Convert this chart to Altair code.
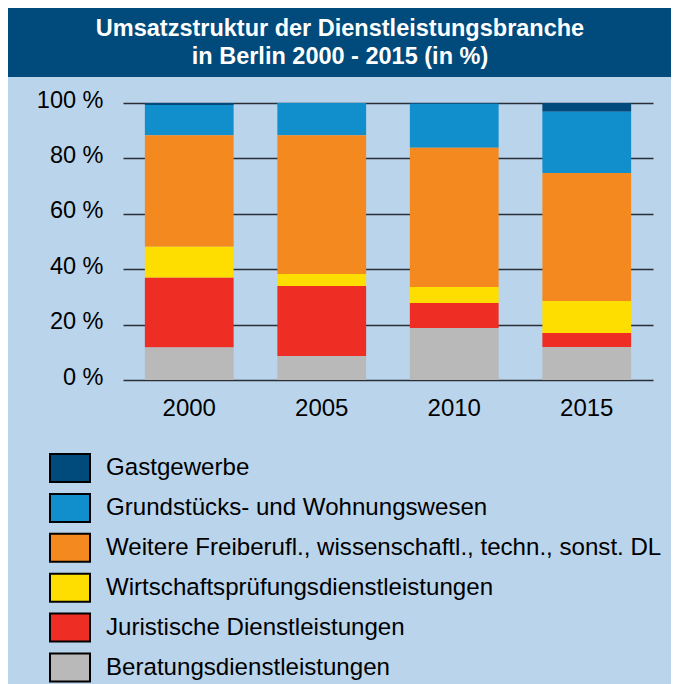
import altair as alt
import pandas as pd

years = ["2000", "2005", "2010", "2015"]
categories = [
    "Gastgewerbe",
    "Grundstücks- und Wohnungswesen",
    "Weitere Freiberufl., wissenschaftl., techn., sonst. DL",
    "Wirtschaftsprüfungsdienstleistungen",
    "Juristische Dienstleistungen",
    "Beratungsdienstleistungen",
]
colors = ["#004a7c", "#118fcd", "#f3891f", "#fedd00", "#ee2e24", "#b9b9b9"]
title_lines = ["Umsatzstruktur der Dienstleistungsbranche", "in Berlin 2000 - 2015 (in %)"]

gastgewerbe = [0.7, 0.0, 0.3, 3.2]
grundstuecke = [10.9, 11.6, 15.9, 22.1]
weitere = [40.3, 50.1, 50.2, 46.2]
wirtschaft = [11.2, 4.4, 5.8, 11.5]
juristisch = [25.2, 25.2, 9.0, 5.1]
beratung = [11.7, 8.7, 18.8, 11.9]

series = [gastgewerbe, grundstuecke, weitere, wirtschaft, juristisch, beratung]
rows = []
for ci, (cat, vals) in enumerate(zip(categories, series)):
    for y, v in zip(years, vals):
        rows.append({"Jahr": y, "Bereich": cat, "Anteil": v, "rank": len(categories) - ci})
df = pd.DataFrame(rows)

FONT = "Liberation Sans"
one = pd.DataFrame({"a": [0]})

band = alt.Chart(one).mark_rect(color="#004a7c", clip=False).encode(
    x=alt.value(-115), x2=alt.value(548), y=alt.value(-95), y2=alt.value(-26)
)

title = alt.Chart(one).mark_text(
    color="#ffffff", fontSize=23.5, font=FONT, fontWeight="bold",
    align="center", baseline="alphabetic", lineHeight=28, clip=False
).encode(
    x=alt.value(217), y=alt.value(-67), text=alt.value(title_lines)
)

bars = alt.Chart(df).mark_bar(stroke=None).encode(
    x=alt.X("Jahr:N", sort=years,
            scale=alt.Scale(paddingInner=0.33, paddingOuter=0.165),
            axis=alt.Axis(title=None, labelAngle=0, domain=False, ticks=False,
                          labelFontSize=24, labelFont=FONT, labelColor="#000",
                          labelPadding=16, labelBaseline="top")),
    y=alt.Y("Anteil:Q", stack="zero",
            scale=alt.Scale(domain=[0, 100], nice=False),
            axis=alt.Axis(title=None, values=[0, 20, 40, 60, 80, 100],
                          labelExpr="datum.value + ' %'", domain=False, ticks=False,
                          labelFontSize=23.5, labelFont=FONT, labelColor="#000",
                          labelPadding=20, labelOffset=-3,
                          grid=True, gridColor="#2a2f36", gridWidth=1.5, gridOpacity=1)),
    color=alt.Color("Bereich:N",
                    scale=alt.Scale(domain=categories, range=colors),
                    legend=alt.Legend(
                        title=None, orient="none", legendX=-74, legendY=344,
                        direction="vertical", padding=0,
                        symbolType="M-1,-0.7L1,-0.7L1,0.7L-1,0.7Z",
                        symbolSize=1600, symbolStrokeColor="#000", symbolStrokeWidth=2,
                        symbolOpacity=1, rowPadding=0.9, labelOffset=15,
                        labelFontSize=24.1, labelFont=FONT, labelColor="#000",
                        labelLimit=700)),
    order=alt.Order("rank:Q", sort="ascending"),
)

chart = alt.layer(band, title, bars).properties(
    width=530,
    height=277,
    autosize=alt.AutoSizeParams(type="none"),
    padding={"left": 115, "top": 95, "right": 18, "bottom": 310},
    background="#bad4ec",
).configure_view(stroke=None, fill=None)

chart.save("out.html", embed_options={"renderer": "svg", "actions": False})
